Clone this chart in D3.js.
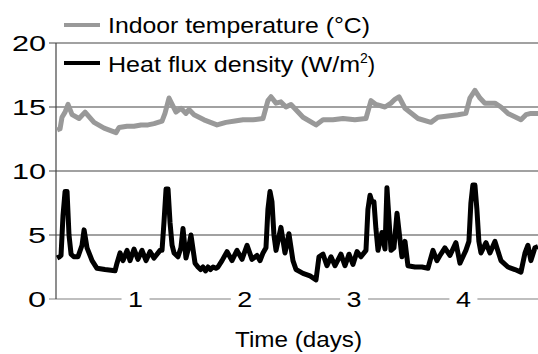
<!DOCTYPE html>
<html>
<head>
<meta charset="utf-8">
<script src="https://cdn.jsdelivr.net/npm/d3@7"></script>
<style>
  body { margin: 0; background: #fff; }
  text { font-family: "Liberation Sans", Arial, sans-serif; fill: #000; }
</style>
</head>
<body>
<div class="chart"></div>
<script>
// time (days) and readings
let fluxT = [0.287,0.310,0.323,0.341,0.360,0.378,0.396,0.415,0.440,0.478,0.515,0.534,0.561,0.607,0.652,0.725,0.817,0.835,0.863,0.890,0.927,0.954,0.991,1.027,1.064,1.101,1.137,1.174,1.229,1.247,1.265,1.284,1.302,1.320,1.339,1.357,1.393,1.420,1.439,1.466,1.490,1.512,1.549,1.576,1.600,1.622,1.645,1.668,1.690,1.714,1.740,1.759,1.796,1.842,1.887,1.933,1.979,2.025,2.070,2.116,2.144,2.171,2.198,2.216,2.235,2.253,2.271,2.290,2.335,2.372,2.408,2.445,2.473,2.537,2.601,2.656,2.683,2.720,2.756,2.793,2.830,2.884,2.921,2.958,2.994,3.031,3.067,3.113,3.131,3.150,3.168,3.186,3.204,3.223,3.259,3.287,3.305,3.342,3.369,3.397,3.442,3.470,3.497,3.561,3.625,3.680,3.726,3.762,3.790,3.835,3.881,3.936,3.973,4.027,4.055,4.073,4.091,4.110,4.128,4.146,4.165,4.211,4.247,4.293,4.348,4.412,4.476,4.531,4.568,4.595,4.622,4.659,4.687]
let fluxV = [3.2,3.3,3.4,6.5,8.4,8.4,5.0,3.5,3.3,3.3,4.2,5.4,4.0,3.0,2.4,2.3,2.2,2.8,3.6,3.0,3.8,3.0,3.9,3.1,3.8,3.0,3.7,3.2,3.8,3.8,6.0,8.6,8.6,6.0,4.2,3.6,3.3,4.0,5.5,3.2,4.0,5.0,2.8,2.5,2.3,2.5,2.2,2.5,2.3,2.5,2.4,2.5,3.0,3.7,3.0,3.8,3.1,4.2,3.1,3.4,3.0,3.6,4.0,7.0,8.4,7.6,5.0,3.8,5.6,3.6,5.1,3.0,2.3,2.0,1.8,1.5,3.3,3.5,2.6,3.3,2.6,3.5,2.6,3.5,2.7,3.7,3.3,3.8,7.0,8.1,7.6,7.6,5.5,3.8,5.2,3.9,8.7,3.8,4.0,6.7,3.3,4.5,2.6,2.5,2.5,2.4,3.8,3.0,3.4,4.0,3.4,4.4,2.8,3.8,4.5,7.5,8.9,8.9,7.0,4.5,3.6,4.4,3.6,4.5,3.0,2.5,2.3,2.1,3.6,4.2,3.0,4.0,4.1]

let tempT = [0.287,0.314,0.332,0.360,0.387,0.424,0.488,0.543,0.625,0.717,0.826,0.854,0.927,0.991,1.055,1.119,1.174,1.247,1.274,1.311,1.375,1.421,1.466,1.494,1.540,1.631,1.750,1.832,1.914,1.988,2.079,2.171,2.216,2.244,2.290,2.335,2.381,2.427,2.537,2.656,2.720,2.811,2.903,3.012,3.113,3.159,3.204,3.287,3.342,3.378,3.415,3.470,3.589,3.707,3.771,3.863,3.954,4.027,4.064,4.110,4.156,4.201,4.293,4.348,4.412,4.531,4.577,4.622,4.687]
let tempV = [13.2,13.3,14.2,14.6,15.2,14.4,14.1,14.6,13.8,13.35,13.0,13.4,13.5,13.5,13.6,13.6,13.7,13.9,14.5,15.7,14.6,14.9,14.5,14.8,14.4,14.0,13.6,13.8,13.9,14.0,14.0,14.1,15.5,15.8,15.3,15.4,15.0,15.2,14.2,13.6,14.0,14.0,14.1,14.0,14.1,15.5,15.2,15.0,15.3,15.6,15.8,14.9,14.1,13.8,14.2,14.3,14.4,14.5,15.7,16.3,15.7,15.3,15.3,15.0,14.5,14.0,14.4,14.5,14.5]

let yTicks = [0,5,10,15,20]
let xTicks = [1,2,3,4]
let seriesNames = ['Indoor temperature (°C)', 'Heat flux density (W/m']

let w = 538, h = 354
let padLeft = 56, padRight = 538, padTop = 43, padBottom = 299

let svg = d3.select('.chart').append('svg').attr('width', w).attr('height', h)

let x = d3.scaleLinear().domain([0.277, 4.687]).range([padLeft, padRight])
let y = d3.scaleLinear().domain([0, 20]).range([padBottom, padTop])

// gridlines (they also make the small ticks left of the axis)
svg.selectAll('.grid').data(yTicks).enter().append('line')
  .attr('class', 'grid')
  .attr('x1', 49).attr('x2', padRight)
  .attr('y1', d => y(d)).attr('y2', d => y(d))
  .attr('stroke', d => d == 0 ? '#808080' : '#444').attr('stroke-width', 1.2)

svg.append('line').attr('x1', padLeft).attr('x2', padLeft).attr('y1', padTop).attr('y2', padBottom)
  .attr('stroke', '#444').attr('stroke-width', 1.2)

// y labels
let yAxis = d3.axisLeft(y).tickValues(yTicks).tickSize(0).tickPadding(0)
let gy = svg.append('g').attr('transform', 'translate(46,0)').call(yAxis)
gy.select('.domain').remove()
gy.selectAll('text').attr('font-size', 22).attr('dy', '0.36em')
  .attr('font-family', '"Liberation Sans", Arial, sans-serif')
  .attr('fill', '#000')
  .attr('textLength', d => d >= 10 ? 34 : 18).attr('lengthAdjust', 'spacingAndGlyphs')

// x labels sit on the zero line with a white box behind them
let xAxis = d3.axisBottom(x).tickValues(xTicks).tickSize(0).tickPadding(0).tickFormat(d3.format('d'))
let gx = svg.append('g').attr('transform', 'translate(0,' + padBottom + ')').call(xAxis)
gx.select('.domain').remove()
gx.selectAll('.tick').insert('rect', 'text')
  .attr('x', -14).attr('y', -8).attr('width', 28).attr('height', 16).attr('fill', '#fff')
gx.selectAll('text').attr('font-size', 22).attr('y', 0).attr('dy', '0.36em')
  .attr('font-family', '"Liberation Sans", Arial, sans-serif')
  .attr('fill', '#000')
  .attr('textLength', 15).attr('lengthAdjust', 'spacingAndGlyphs')

// series
let tempLine = d3.line().x((d, i) => x(tempT[i])).y(d => y(d))
let fluxLine = d3.line().x((d, i) => x(fluxT[i])).y(d => y(d))

svg.append('path').attr('d', tempLine(tempV)).attr('fill', 'none')
  .attr('stroke', '#999').attr('stroke-width', 5).attr('stroke-linejoin', 'round')
svg.append('path').attr('d', fluxLine(fluxV)).attr('fill', 'none')
  .attr('stroke', '#000').attr('stroke-width', 5).attr('stroke-linejoin', 'round')

// legend
svg.append('line').attr('x1', 64).attr('x2', 100).attr('y1', 25).attr('y2', 25)
  .attr('stroke', '#999').attr('stroke-width', 4)
svg.append('text').attr('x', 108).attr('y', 33).attr('font-size', 22)
  .attr('textLength', 262).attr('lengthAdjust', 'spacingAndGlyphs').text(seriesNames[0])

svg.append('line').attr('x1', 64).attr('x2', 100).attr('y1', 63).attr('y2', 63)
  .attr('stroke', '#000').attr('stroke-width', 4)
let t2 = svg.append('text').attr('x', 108).attr('y', 72).attr('font-size', 22)
t2.append('tspan').attr('textLength', 252).attr('lengthAdjust', 'spacingAndGlyphs').text(seriesNames[1])
t2.append('tspan').attr('font-size', 14).attr('dy', -9).text('2')
t2.append('tspan').attr('dy', 9).text(')')

svg.append('text').attr('x', 235).attr('y', 347).attr('font-size', 22)
  .attr('textLength', 127).attr('lengthAdjust', 'spacingAndGlyphs').text('Time (days)')
</script>
</body>
</html>
